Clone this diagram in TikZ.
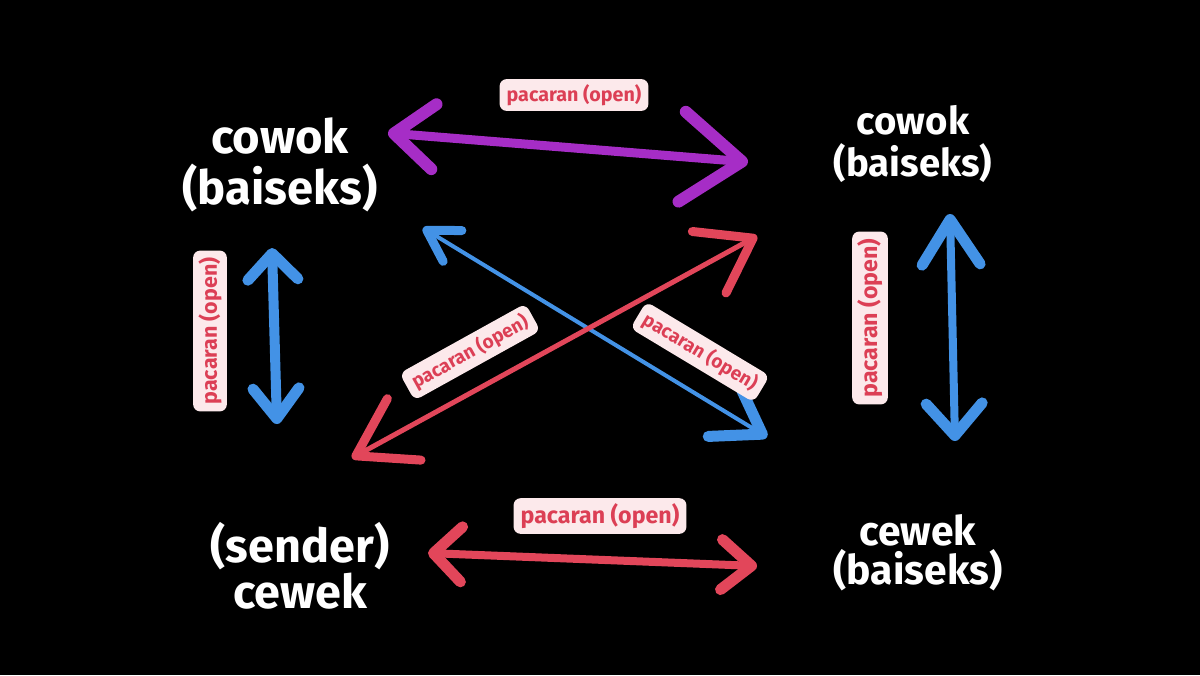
\documentclass[tikz,border=0pt]{standalone}
\usepackage{fontspec}
\setmainfont{Fira Sans}
\usetikzlibrary{arrows.meta}
\definecolor{ungu}{HTML}{A62DC6}
\definecolor{biru}{HTML}{4392E6}
\definecolor{merah}{HTML}{E2465A}
\definecolor{merahtua}{HTML}{DC3F55}
\definecolor{pinkmuda}{HTML}{FCE9EB}
\begin{document}
\begin{tikzpicture}[x=0.01cm,y=-0.01cm,
    who/.style={text=white,align=center,inner sep=0pt},
    tag/.style={fill=pinkmuda,text=merahtua,rounded corners=2pt,
      inner xsep=2pt,inner ysep=1.5pt,font=\bfseries\fontsize{#1}{#1}\selectfont},
    tag/.default=5.6pt,
    hand/.style={line width=#1,line cap=round,line join=round}]
  \fill[black] (0,0) rectangle (1200,675);
  \useasboundingbox (0,0) rectangle (1200,675);

  % the four people
  \node[who,font=\bfseries\fontsize{13.4pt}{14.5pt}\selectfont] (cowokkiri) at (280,165) {cowok\\(baiseks)};
  \node[who,font=\bfseries\fontsize{10.9pt}{11.8pt}\selectfont] (cowokkanan) at (913,144) {cowok\\(baiseks)};
  \node[who,font=\bfseries\fontsize{13.3pt}{12pt}\selectfont] (sender) at (300,566) {(sender)\\cewek};
  \node[who,font=\bfseries\fontsize{11.6pt}{11pt}\selectfont] (cewekkanan) at (918,553) {cewek\\(baiseks)};

  % arrow ends
  \coordinate (ungu-a) at (388,133);
  \coordinate (ungu-b) at (748,162);
  \coordinate (kiri-a) at (272,248);
  \coordinate (kiri-b) at (277,424);
  \coordinate (kanan-a) at (950,214);
  \coordinate (kanan-b) at (955,441);
  \coordinate (silang-a) at (423,228);
  \coordinate (silang-b) at (767,437);
  \coordinate (merah-a) at (757,236);
  \coordinate (merah-b) at (352,458);
  \coordinate (bawah-a) at (428,553);
  \coordinate (bawah-b) at (757,566);

  % arrows
  \draw[ungu,hand=0.9mm,{Straight Barb[length=4mm,width=6.5mm,line width=1.2mm,round]}-{Straight Barb[length=6mm,width=9mm,line width=1.2mm,round]}] (ungu-a) -- (ungu-b);
  \draw[biru,hand=1mm,{Straight Barb[length=2.6mm,width=5mm,line width=1.1mm,round]}-{Straight Barb[length=3mm,width=4.6mm,line width=1.1mm,round]}] (kiri-a) -- (kiri-b);
  \draw[biru,hand=0.8mm,{Straight Barb[length=4.5mm,width=5.8mm,line width=1.1mm,round]}-{Straight Barb[length=3.2mm,width=5.6mm,line width=1.1mm,round]}] (kanan-a) -- (kanan-b);
  \draw[biru,hand=0.4mm,{Straight Barb[length=3mm,width=3.6mm,line width=0.9mm,round]}-{Straight Barb[length=4.5mm,width=6mm,line width=1.1mm,round]}] (silang-a) -- (silang-b);
  \draw[merah,hand=0.5mm,{Straight Barb[length=5mm,width=7mm,line width=0.9mm,round]}-{Straight Barb[length=5.5mm,width=7mm,line width=0.9mm,round]}] (merah-a) -- (merah-b);
  \draw[merah,hand=0.8mm,{Straight Barb[length=2.8mm,width=5.5mm,line width=1.1mm,round]}-{Straight Barb[length=3mm,width=5mm,line width=1.1mm,round]}] (bawah-a) -- (bawah-b);

  % labels
  \node[tag] (t-atas) at (574,95) {pacaran (open)};
  \node[tag=6.6pt] (t-bawah) at (600,516) {pacaran (open)};
  \node[tag=6.1pt,rotate=90] (t-kiri) at (210,331) {pacaran (open)};
  \node[tag=6.6pt,rotate=90] (t-kanan) at (870,318) {pacaran (open)};
  \node[tag=5.4pt,rotate=29] (t-merah) at (470,352) {pacaran (open)};
  \node[tag=5.4pt,rotate=-31] (t-biru) at (700,352) {pacaran (open)};
\end{tikzpicture}
\end{document}
